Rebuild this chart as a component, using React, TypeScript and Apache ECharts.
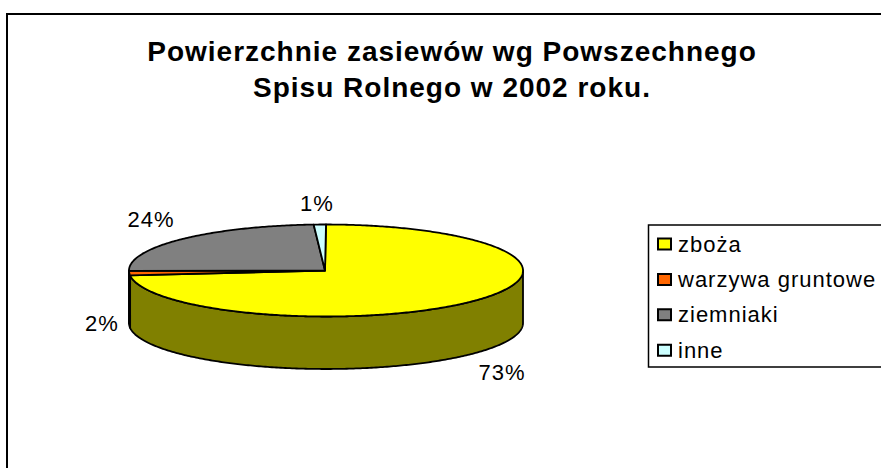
import React, { useEffect, useRef } from "react";
import * as echarts from "echarts";

const titleText = "Powierzchnie zasiewów wg Powszechnego\nSpisu Rolnego w 2002 roku.";
const categories = ["zboża", "warzywa gruntowe", "ziemniaki", "inne"];
const shares = [73.3, 1.6, 24.1, 1.0];
const topColors = ["#FFFF00", "#FF6600", "#808080", "#CCFFFF"];
const wallColors = ["#808000", "#803300", "#404040", "#668080"];
const labelSpots = [
  [502, 372],
  [102, 323],
  [151, 219],
  [317, 203],
];

const CX = 326;
const CY = 270.5;
const RX = 197;
const RY = 46;
const DEPTH = 52.5;
const FONT = '"Liberation Sans", Arial, sans-serif';

const total = shares.reduce((a, b) => a + b, 0);

// angle measured clockwise from 12 o'clock, in degrees
const rimPoint = (deg: number, drop = 0): number[] => {
  const r = (deg * Math.PI) / 180;
  return [CX + RX * Math.sin(r), CY - RY * Math.cos(r) + drop];
};

const arcPoints = (from: number, to: number, drop = 0): number[][] => {
  const steps = Math.max(2, Math.ceil((to - from) * 1.5));
  const pts: number[][] = [];
  for (let i = 0; i <= steps; i++) pts.push(rimPoint(from + ((to - from) * i) / steps, drop));
  return pts;
};

const renderSlice = (index: number) => (_params: any, api: any) => {
  const value = api.value(0);
  let before = 0;
  for (let i = 0; i < index; i++) before += shares[i];
  const start = (before / total) * 360;
  const end = start + (value / total) * 360;
  const children: any[] = [];
  const wallFrom = Math.max(start, 90);
  const wallTo = Math.min(end, 270);
  if (wallTo > wallFrom) {
    children.push({
      type: "polygon",
      shape: { points: [...arcPoints(wallFrom, wallTo), ...arcPoints(wallFrom, wallTo, DEPTH).reverse()] },
      style: { fill: wallColors[index], stroke: "#000", lineWidth: 1.8, lineJoin: "round" },
    });
  }
  children.push({
    type: "polygon",
    shape: { points: [[CX - 1, CY], ...arcPoints(start, end)] },
    style: { fill: topColors[index], stroke: "#000", lineWidth: 1.8, lineJoin: "round" },
  });
  children.push({
    type: "text",
    style: {
      text: `${Math.round((value / total) * 100)}%`,
      x: labelSpots[index][0],
      y: labelSpots[index][1],
      align: "center",
      verticalAlign: "middle",
      fontFamily: FONT,
      fontSize: 22,
      fill: "#000",
    },
  });
  return { type: "group", children };
};

export default function App() {
  const ref = useRef<HTMLDivElement>(null);
  useEffect(() => {
    const chart = echarts.init(ref.current!, undefined, { renderer: "svg" });
    chart.setOption({
      animation: false,
      backgroundColor: "#fff",
      title: {
        text: titleText,
        left: 447,
        top: 28,
        textAlign: "center",
        textStyle: { fontFamily: FONT, fontWeight: "bold", fontSize: 28, lineHeight: 36, color: "#000" },
      },
      legend: {
        orient: "vertical",
        left: 657,
        top: 233,
        padding: 0,
        itemWidth: 13,
        itemHeight: 11,
        itemGap: 13.4,
        icon: "rect",
        selectedMode: false,
        textStyle: { fontFamily: FONT, fontSize: 22, color: "#000", padding: [0, 0, 0, 2] },
        data: categories.map((name, i) => ({
          name,
          itemStyle: { color: topColors[i], borderColor: "#000", borderWidth: 2 },
        })),
      },
      graphic: [
        { type: "rect", z: 0, shape: { x: 7, y: 14, width: 1000, height: 1000 }, style: { fill: "none", stroke: "#000", lineWidth: 2 } },
        { type: "rect", z: 0, shape: { x: 648.5, y: 225, width: 400, height: 142 }, style: { fill: "none", stroke: "#000", lineWidth: 1.5 } },
      ],
      series: categories.map((name, i) => ({
        type: "custom",
        name,
        coordinateSystem: "none",
        silent: true,
        data: [[shares[i]]],
        renderItem: renderSlice(i),
      })),
    });
    return () => chart.dispose();
  }, []);
  return (
    <div
      ref={ref}
      style={{ position: "fixed", left: 0, top: 0, width: 881, height: 468, letterSpacing: "1px", background: "#fff" }}
    />
  );
}
